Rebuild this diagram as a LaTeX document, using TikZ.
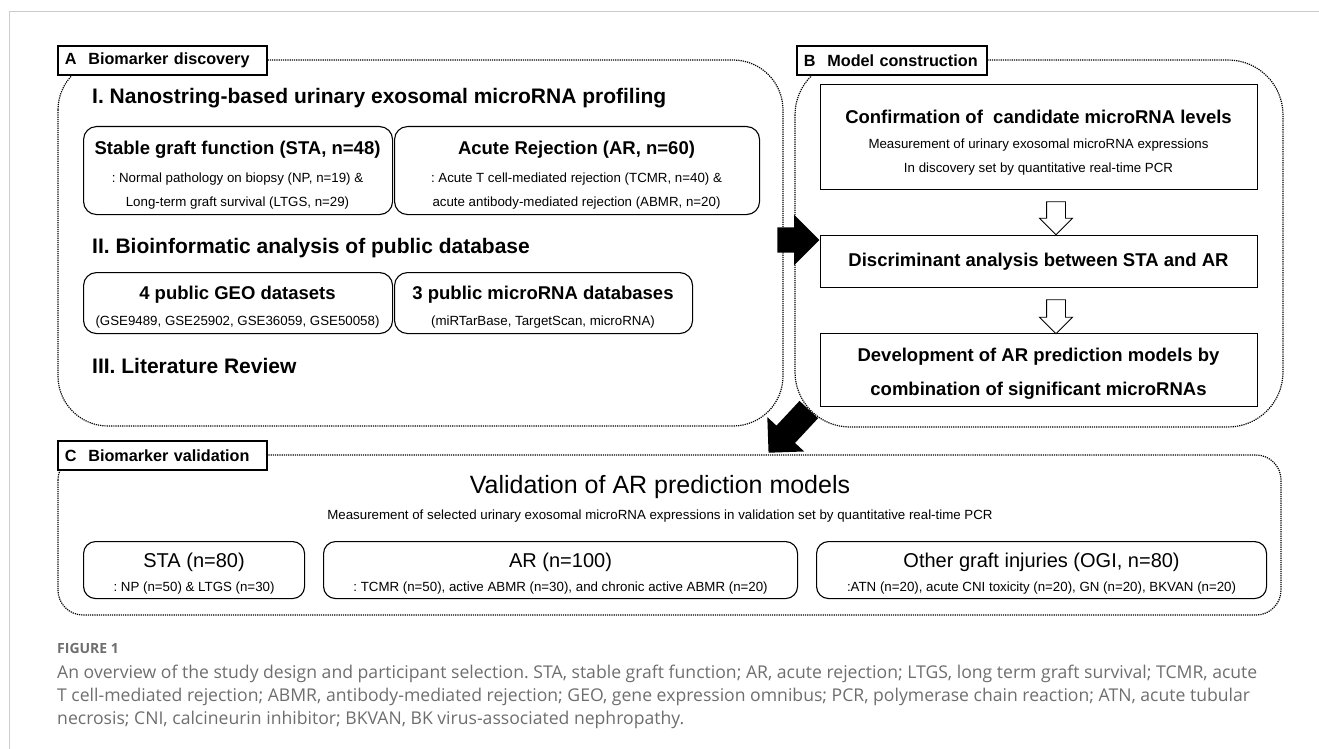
\documentclass[tikz,border=0pt]{standalone}
\usepackage{fontspec}
\setmainfont{Liberation Sans}
\newfontfamily\capfont{Open Sans}
\usetikzlibrary{positioning,calc,shapes.arrows}
\frenchspacing

\definecolor{framegray}{HTML}{CCCCCC}
\definecolor{capgray}{HTML}{6E6E6E}

\begin{document}
\begin{tikzpicture}[
x=1pt,y=-1pt,
region/.style={
	draw,
	densely dotted,
	line width=1.2pt
},
tag/.style={
	draw,
	fill=white,
	line width=1.6pt,
	anchor=west,
	align=left,
	inner xsep=7pt,
	inner ysep=0pt,
	minimum height=29pt,
	font=\fontsize{16.2}{18}\selectfont\bfseries
},
panel/.style={
	draw,
	line width=1.1pt,
	rounded corners=13pt,
	anchor=north west,
	inner sep=0pt
},
stagebox/.style={
	draw,
	line width=1.3pt,
	anchor=north west,
	inner sep=0pt
},
head/.style={anchor=west,inner sep=0pt,font=\fontsize{21}{24}\selectfont\bfseries},
ttl/.style={inner sep=0pt,font=\fontsize{18.5}{21}\selectfont\bfseries},
sub/.style={inner sep=0pt,font=\fontsize{13.3}{15}\selectfont},
cttl/.style={inner sep=0pt,font=\fontsize{20}{23}\selectfont},
bigarrow/.style={
	single arrow,
	fill=black,
	inner xsep=0pt,
	inner ysep=12.5pt,
	single arrow head extend=12.5pt
},
hollowarrow/.style={
	single arrow,
	draw,
	fill=white,
	line width=0.9pt,
	inner xsep=0pt,
	inner ysep=9pt,
	single arrow head extend=7pt,
	rotate=-90
}
]
\useasboundingbox (0,0) rectangle (1319,749);
\draw[framegray,line width=1pt] (9,749) -- (9,12) -- (1319,12);

% dotted panels
\draw[region,rounded corners=50pt] (58,60) rectangle (783,426);
\draw[region,rounded corners=55pt] (795,60) rectangle (1283,427);
\draw[region,rounded corners=25pt] (58,455) rectangle (1281,615);

\node[tag,text width=195pt] (tagA) at (57,60.5) {A\hspace{0.4em} Biomarker discovery};
\node[tag,text width=176pt] (tagB) at (796,60.5) {B\hspace{0.4em} Model construction};
\node[tag,text width=195pt] (tagC) at (57,455.5) {C\hspace{0.4em} Biomarker validation};

% A: discovery
\node[head] (h1) at (92,98) {I. Nanostring-based urinary exosomal microRNA profiling};
\node[panel,minimum width=309pt,minimum height=88pt] (sta) at (83,126) {};
\node[panel,minimum width=365pt,minimum height=88pt] (ar) at (394,126) {};
\node[ttl] (staT) at (237.5,150) {Stable graft function (STA, n=48)};
\node[sub] (staS1) at (237.5,179) {: Normal pathology on biopsy (NP, n=19) \&};
\node[sub] (staS2) at (237.5,203) {Long-term graft survival (LTGS, n=29)};
\node[ttl] (arT) at (576.5,150) {Acute Rejection (AR, n=60)};
\node[sub] (arS1) at (576.5,179) {: Acute T cell-mediated rejection (TCMR, n=40) \&};
\node[sub] (arS2) at (576.5,203) {acute antibody-mediated rejection (ABMR, n=20)};

\node[head] (h2) at (92,248) {II. Bioinformatic analysis of public database};
\node[panel,minimum width=309pt,minimum height=61pt] (geo) at (83,272) {};
\node[panel,minimum width=298pt,minimum height=61pt] (mir) at (394,272) {};
\node[ttl] (geoT) at (237.5,295) {4 public GEO datasets};
\node[sub] (geoS) at (237.5,322) {(GSE9489, GSE25902, GSE36059, GSE50058)};
\node[ttl] (mirT) at (543,295) {3 public microRNA databases};
\node[sub] (mirS) at (543,322) {(miRTarBase, TargetScan, microRNA)};

\node[head] (h3) at (92,366) {III. Literature Review};

% B: model construction
\node[stagebox,minimum width=437pt,minimum height=105pt] (conf) at (820,84) {};
\node[ttl] (confT) at (1038.5,117) {Confirmation of \ candidate microRNA levels};
\node[sub] (confS1) at (1038.5,145) {Measurement of urinary exosomal microRNA expressions};
\node[sub] (confS2) at (1038.5,169) {In discovery set by quantitative real-time PCR};
\node[stagebox,minimum width=437pt,minimum height=52pt] (disc) at (820,235) {};
\node[ttl] (discT) at (1038.5,262) {Discriminant analysis between STA and AR};
\node[stagebox,minimum width=437pt,minimum height=73pt] (dev) at (820,333) {};
\node[ttl] (devT1) at (1038.5,357) {Development of AR prediction models by};
\node[ttl] (devT2) at (1038.5,391) {combination of significant microRNAs};

\node[hollowarrow,minimum height=33pt] (down1) at (1056,213.5) {};
\node[hollowarrow,minimum height=34pt] (down2) at (1056,312) {};

% flow between panels
\node[bigarrow,minimum height=42pt] (toB) at (792,240) {};
\node[bigarrow,minimum height=59pt,rotate=-133] (toC) at (793,426.5) {};

% C: validation
\node[inner sep=0pt,font=\fontsize{25}{28}\selectfont] (valT) at (660,487) {Validation of AR prediction models};
\node[sub] (valS) at (660,516) {Measurement of selected urinary exosomal microRNA expressions in validation set by quantitative real-time PCR};
\foreach \n/\l/\w/\t/\s in {
	sta2/83/221/{STA (n=80)}/{: NP (n=50) \& LTGS (n=30)},
	ar2/323/474/{AR (n=100)}/{: TCMR (n=50), active ABMR (n=30), and chronic active ABMR (n=20)},
	ogi/816/450/{Other graft injuries (OGI, n=80)}/{:ATN (n=20), acute CNI toxicity (n=20), GN (n=20), BKVAN (n=20)}}
{
	\node[panel,rounded corners=12pt,minimum width=\w pt,minimum height=57pt] (\n) at (\l,541) {};
	\node[cttl] (\n T) at ($(\n.north)+(0,21)$) {\t};
	\node[sub] (\n S) at ($(\n.north)+(0,47)$) {\s};
}

% caption
\node[anchor=west,inner sep=0pt,text=capgray,font=\capfont\fontsize{14}{16}\selectfont\bfseries] (fig) at (57,648) {FIGURE 1};
\node[anchor=west,inner sep=0pt,text=capgray,font=\capfont\fontsize{17.6}{20}\selectfont] (cap1) at (57,674) {An overview of the study design and participant selection. STA, stable graft function; AR, acute rejection; LTGS, long term graft survival; TCMR, acute};
\node[anchor=west,inner sep=0pt,text=capgray,font=\capfont\fontsize{17.6}{20}\selectfont] (cap2) at (57,697) {T cell-mediated rejection; ABMR, antibody-mediated rejection; GEO, gene expression omnibus; PCR, polymerase chain reaction; ATN, acute tubular};
\node[anchor=west,inner sep=0pt,text=capgray,font=\capfont\fontsize{17.6}{20}\selectfont] (cap3) at (57,720) {necrosis; CNI, calcineurin inhibitor; BKVAN, BK virus-associated nephropathy.};
\end{tikzpicture}
\end{document}
